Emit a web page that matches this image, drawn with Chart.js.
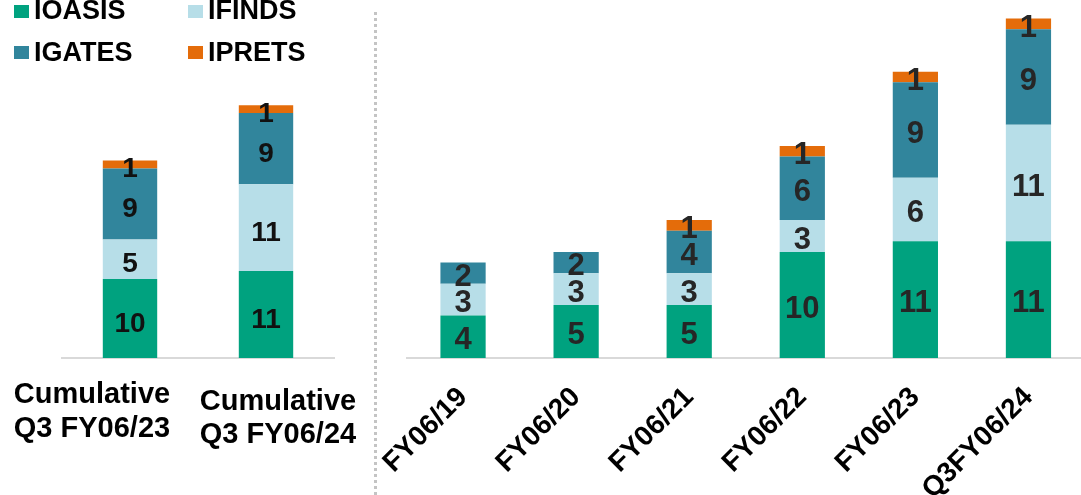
<!DOCTYPE html>
<html>
<head>
<meta charset="utf-8">
<script src="https://cdn.jsdelivr.net/npm/chart.js@4.4.1/dist/chart.umd.min.js"></script>
<style>
  html, body { margin: 0; padding: 0; background: #fff; overflow: hidden; }
  body { width: 1081px; height: 495px; position: relative; font-family: "Liberation Sans", Arial, sans-serif; }
  #leftWrap { position: absolute; left: 0; top: 0; width: 375px; height: 495px; }
  #rightWrap { position: absolute; left: 380px; top: 0; width: 705px; height: 495px; }
  .sep { position: absolute; left: 374px; top: 12px; height: 483px; border-left: 3px dotted #c4c4c4; }
  .leg { position: absolute; font-weight: bold; font-size: 27px; color: #000; line-height: 27px; white-space: nowrap; }
  .leg span { position: absolute; width: 15px; height: 13px; left: -20px; }
</style>
</head>
<body>
<div id="leftWrap"><canvas id="leftChart" width="375" height="495"></canvas></div>
<div id="rightWrap"><canvas id="rightChart" width="705" height="495"></canvas></div>
<div class="sep"></div>
<div id="legend"></div>
<script>
// series names and colours
const seriesNames = ["IOASIS", "IFINDS", "IGATES", "IPRETS"];
const seriesColors = ["#00A27F", "#B7DEE8", "#31859C", "#E46C0A"];

// left panel: cumulative to Q3
const cumLabels = [["Cumulative", "Q3 FY06/23"], ["Cumulative", "Q3 FY06/24"]];
const cumOasis = [10, 11];
const cumFinds = [5, 11];
const cumGates = [9, 9];
const cumPrets = [1, 1];

// right panel: by fiscal year
const fyLabels = ["FY06/19", "FY06/20", "FY06/21", "FY06/22", "FY06/23", "Q3FY06/24"];
const fyOasis = [4, 5, 5, 10, 11, 11];
const fyFinds = [3, 3, 3, 3, 6, 11];
const fyGates = [2, 2, 4, 6, 9, 9];
const fyPrets = [0, 0, 1, 1, 1, 1];

// legend, two columns
const legendPos = [[34, -3, 8], [208, -3, 8], [34, 38.5, 7.5], [208, 38.5, 7.5]];
const legend = document.getElementById("legend");
seriesNames.forEach((name, i) => {
  const d = document.createElement("div");
  d.className = "leg";
  d.style.left = legendPos[i][0] + "px";
  d.style.top = legendPos[i][1] + "px";
  d.innerHTML = `<span style="background:${seriesColors[i]};top:${legendPos[i][2]}px"></span>${name}`;
  legend.appendChild(d);
});

function makeDatasets(values) {
  return values.map((data, i) => ({
    label: seriesNames[i],
    data,
    backgroundColor: seriesColors[i],
    borderWidth: 0,
    categoryPercentage: 1,
    barPercentage: 0.4
  }));
}

const valueLabels = {
  id: "valueLabels",
  afterDatasetsDraw(chart, args, opts) {
    const ctx = chart.ctx;
    ctx.save();
    ctx.font = `bold ${opts.size}px "Liberation Sans", Arial, sans-serif`;
    ctx.fillStyle = opts.color;
    ctx.textAlign = "center";
    ctx.textBaseline = "alphabetic";
    chart.data.datasets.forEach((ds, i) => {
      chart.getDatasetMeta(i).data.forEach((bar, j) => {
        const v = ds.data[j];
        if (!v) return;
        const mid = (bar.y + bar.base) / 2;
        ctx.fillText(String(v), bar.x, mid + opts.size * 0.358 + opts.shift);
      });
    });
    ctx.restore();
  }
};

// left panel draws its two-line category labels itself (they are staggered)
const cumAxisLabels = {
  id: "cumAxisLabels",
  afterDraw(chart) {
    const ctx = chart.ctx;
    const x = chart.scales.x;
    const base = chart.chartArea.bottom;
    const dx = [-38, 12];
    const dy = [[45, 79], [52, 85]];
    ctx.save();
    ctx.font = 'bold 29px "Liberation Sans", Arial, sans-serif';
    ctx.fillStyle = "#000";
    ctx.textAlign = "center";
    cumLabels.forEach((lines, i) => {
      const px = x.getPixelForValue(i) + dx[i];
      lines.forEach((t, k) => ctx.fillText(t, px, base + dy[i][k]));
    });
    ctx.restore();
  }
};

function fixAxis(s) {
  s.height = 137;
  s.paddingLeft = 0;
  s.paddingRight = 0;
}

new Chart(document.getElementById("leftChart"), {
  type: "bar",
  data: {
    labels: cumLabels.map(l => l.join(" ")),
    datasets: makeDatasets([cumOasis, cumFinds, cumGates, cumPrets])
  },
  options: {
    responsive: false,
    animation: false,
    layout: { padding: { left: 62, right: 41, top: 42, bottom: 0 } },
    plugins: {
      legend: { display: false },
      tooltip: { enabled: false },
      valueLabels: { size: 28, color: "#111", shift: 3 }
    },
    scales: {
      x: {
        stacked: true,
        grid: { display: false },
        border: { display: true, color: "#d9d9d9", width: 2 },
        ticks: { display: false },
        afterFit: fixAxis
      },
      y: { stacked: true, display: false, min: 0, max: 40 }
    }
  },
  plugins: [valueLabels, cumAxisLabels]
});

new Chart(document.getElementById("rightChart"), {
  type: "bar",
  data: {
    labels: fyLabels,
    datasets: makeDatasets([fyOasis, fyFinds, fyGates, fyPrets])
  },
  options: {
    responsive: false,
    animation: false,
    layout: { padding: { left: 26.5, right: 0, top: 8, bottom: 0 } },
    plugins: {
      legend: { display: false },
      tooltip: { enabled: false },
      valueLabels: { size: 31, color: "#262626", shift: 1.5 }
    },
    scales: {
      x: {
        stacked: true,
        grid: { display: false },
        border: { display: true, color: "#d9d9d9", width: 2 },
        ticks: {
          color: "#000",
          font: { family: '"Liberation Sans", Arial, sans-serif', size: 28, weight: "bold" },
          minRotation: 45,
          maxRotation: 45,
          autoSkip: false,
          padding: 15
        },
        afterFit: fixAxis
      },
      y: { stacked: true, display: false, min: 0, max: 33 }
    }
  },
  plugins: [valueLabels]
});
</script>
</body>
</html>
